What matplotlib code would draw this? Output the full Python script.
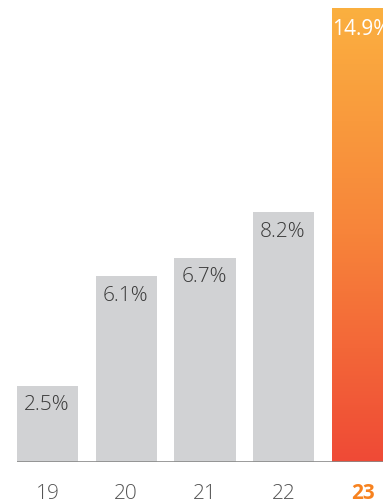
import numpy as np
import matplotlib.pyplot as plt
from matplotlib.colors import LinearSegmentedColormap

years = ['19', '20', '21', '22', '23']
growth = [2.5, 6.1, 6.7, 8.2, 14.9]
labels = ['2.5%', '6.1%', '6.7%', '8.2%', '14.9%']

grey = '#d1d2d4'
grad = LinearSegmentedColormap.from_list('og', ['#ef4a36', '#f7843a', '#fbb040'])

fig = plt.figure(figsize=(3.83, 5.03), dpi=100)
ax = fig.add_axes([0, 41 / 503, 1, 462 / 503])
ax.axis('off')

x = np.arange(len(years))
w = 0.775
ax.bar(x[:-1], growth[:-1], width=w, color=grey, zorder=2)

# gradient bar for the latest year
last = ax.bar(x[-1], growth[-1], width=w, color='none', zorder=2)[0]
img = ax.imshow(np.linspace(0, 1, 256).reshape(-1, 1), cmap=grad, aspect='auto',
                origin='lower', extent=(x[-1] - w / 2, x[-1] + w / 2, 0, growth[-1]),
                zorder=2)
img.set_clip_path(last)
ax.set_xlim(-0.603, 4.26)
ax.set_ylim(0, 462 / 30.5)

ax.hlines(0, -w / 2, 4.6, color='#8a8a8a', lw=1.2, zorder=3)

font = 'Open Sans'
for i, (v, t) in enumerate(zip(growth, labels)):
    if i == len(growth) - 1:
        ax.annotate(t, (x[i] - w / 2, v), xytext=(0, -8), textcoords='offset points',
                    ha='left', va='top', fontsize=15, color='white', family=font, zorder=4)
    else:
        ax.annotate(t, (x[i] - w / 2, v), xytext=(5, -7), textcoords='offset points',
                    ha='left', va='top', fontsize=15, color='#3a3a3a', family=font,
                    fontweight='light', zorder=4)

for i, yr in enumerate(years):
    last_one = i == len(years) - 1
    ax.annotate(yr, (x[i], 0), xytext=(0, -23), textcoords='offset points',
                ha='center', va='center', fontsize=15, family=font,
                color='#f7821f' if last_one else '#555555',
                fontweight='bold' if last_one else 'light', annotation_clip=False)

fig.savefig('out.png', dpi=100)
